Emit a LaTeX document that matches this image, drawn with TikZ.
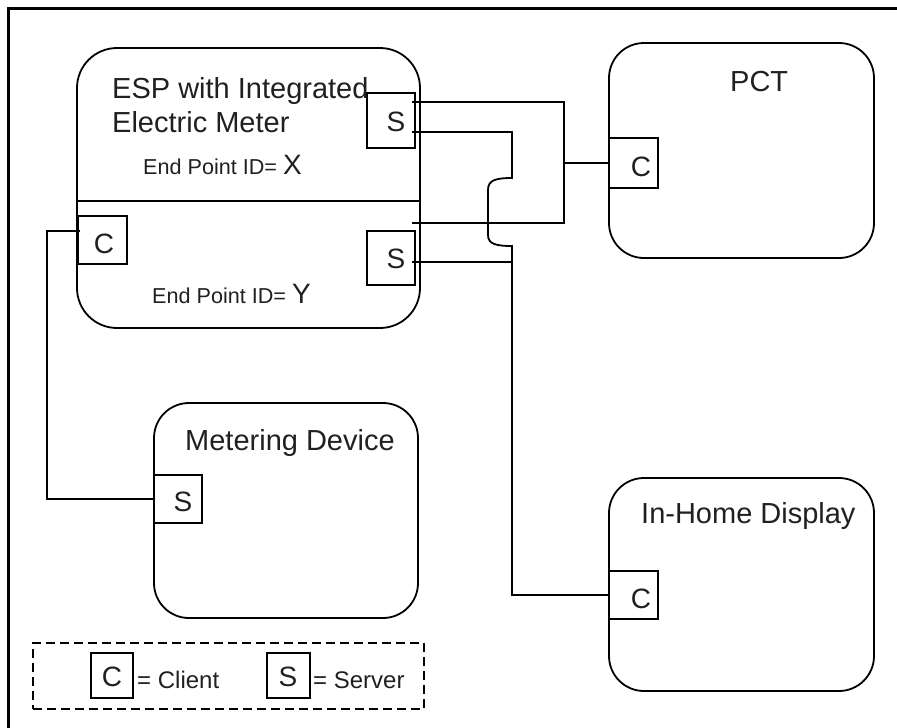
\documentclass[tikz,border=0pt]{standalone}
\usepackage{fontspec}
\setmainfont{Liberation Sans}
\definecolor{ink}{HTML}{231F20}
\begin{document}
\begin{tikzpicture}[x=1pt,y=-1pt,
  bigbox/.style={draw=black,line width=1.8pt,rounded corners=35pt,inner sep=0pt,outer sep=0pt,anchor=north west},
  port/.style={draw=black,line width=1.4pt,inner sep=0pt,outer sep=0pt,anchor=north west},
  wire/.style={draw=black,line width=1.8pt},
  big/.style={text=ink,font=\fontsize{29}{35}\selectfont,inner sep=0pt,anchor=base west},
  keytext/.style={text=ink,font=\fontsize{24}{29}\selectfont,inner sep=0pt,anchor=base west},
  idtext/.style={text=ink,font=\fontsize{21.6}{26}\selectfont,inner sep=0pt,anchor=base west},
  letter/.style={text=ink,font=\fontsize{28}{34}\selectfont,inner sep=0pt,anchor=base}]
\useasboundingbox (0,0) rectangle (897,728);
\clip (0,0) rectangle (897,728);

% outer frame (only top and left edges fall inside the page)
\draw[line width=3pt] (8,740) -- (8,8) -- (905,8);

% devices
\node[bigbox,rounded corners=40pt,minimum width=343pt,minimum height=280pt] (esp) at (77,48) {};
\node[bigbox,minimum width=265pt,minimum height=215pt] (pct) at (609,43) {};
\node[bigbox,minimum width=264pt,minimum height=215pt] (meter) at (154,403) {};
\node[bigbox,minimum width=265pt,minimum height=213pt] (ihd) at (609,478) {};

% divider between the two end points of the ESP
\draw[wire] (esp.west |- 0,201) -- (421,201);

% client / server ports
\node[port,minimum width=48pt,minimum height=55pt] (esps1) at (367,93) {};
\node[port,minimum width=49pt,minimum height=48pt] (espc) at (78,216) {};
\node[port,minimum width=48pt,minimum height=54pt] (esps2) at (367,231) {};
\node[port,minimum width=49pt,minimum height=50pt] (pctc) at (609,138) {};
\node[port,minimum width=48pt,minimum height=48pt] (meters) at (154,475) {};
\node[port,minimum width=49pt,minimum height=48pt] (ihdc) at (609,571) {};

\node[letter] at (396,131) {S};
\node[letter] at (104,253) {C};
\node[letter] at (396,268) {S};
\node[letter] at (641,176) {C};
\node[letter] at (183,511) {S};
\node[letter] at (641,608) {C};

% titles
\node[big] (esptitle1) at (112,98) {ESP with Integrated};
\node[big] (esptitle2) at (112,132) {Electric Meter};
\node[idtext] (idx) at (143,174) {End Point ID= {\fontsize{28}{34}\selectfont X}};
\node[idtext] (idy) at (152,303) {End Point ID= {\fontsize{28}{34}\selectfont Y}};
\node[big] (pcttitle) at (730,91) {PCT};
\node[big] (metertitle) at (185,450) {Metering Device};
\node[big] (ihdtitle) at (641,523) {In-Home Display};

% wiring
\coordinate (a1) at (412,102);
\coordinate (a2) at (412,132);
\coordinate (a3) at (412,223);
\coordinate (a4) at (412,262);
\coordinate (c1) at (80,231);
\coordinate (j1) at (564,163);
\coordinate (j2) at (512,262);

\draw[wire] (a1) -- (564,102) -- (564,223) -- (a3);
\draw[wire] (j1) -- (pctc.west);
\draw[wire] (a2) -- (512,132) -- (512,178)
  .. controls (496,178) and (488,180) .. (488,190) -- (488,235)
  .. controls (488,244) and (496,246) .. (512,246) |- (ihdc.west);
\draw[wire] (a4) -- (j2);
\draw[wire] (c1) -- (47,231) |- (meters.west);

% key
\node[draw=black,dash pattern=on 9pt off 5pt,line width=1.8pt,inner sep=0pt,anchor=north west,
  minimum width=391pt,minimum height=66pt] (key) at (32,642) {};
\node[port,minimum width=42pt,minimum height=45pt] (keyc) at (91,653) {};
\node[port,minimum width=43pt,minimum height=45pt] (keys) at (267,653) {};
\node[letter] at (112,686) {C};
\node[letter] at (288,686) {S};
\node[keytext] at (137,688) {= Client};
\node[keytext] at (313,688) {= Server};
\end{tikzpicture}
\end{document}
